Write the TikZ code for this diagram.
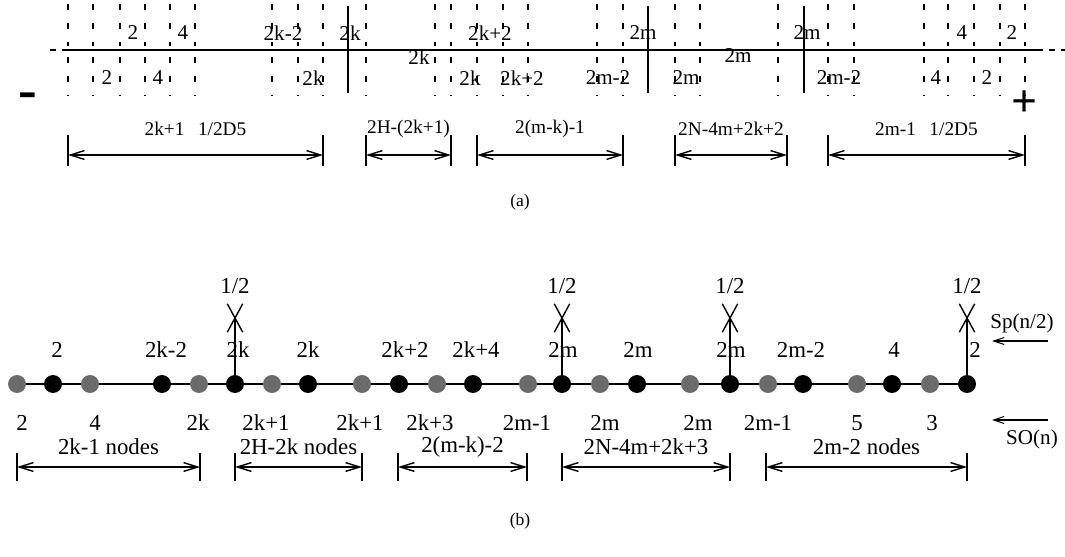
\documentclass[tikz,border=0pt]{standalone}
\usepackage{fontspec}
\setmainfont{Liberation Serif}
\usetikzlibrary{arrows.meta,backgrounds,shapes.misc}
\definecolor{ink}{gray}{0}
\definecolor{sofill}{gray}{0.42}
\tikzset{
  every node/.style={text=ink, inner sep=0pt},
  laba/.style={font=\fontsize{12}{12}\selectfont},
  labb/.style={font=\fontsize{13}{13}\selectfont},
  spnode/.style={circle, fill=ink, minimum size=3.6mm},
  sonode/.style={circle, fill=sofill, minimum size=3.6mm},
  hline/.style={draw=ink, line width=1.1pt},
  vdash/.style={draw=ink, line width=1.1pt, dash pattern=on 3.6pt off 7.2pt},
  dimarr/.style={{Straight Barb[length=8pt,width=5pt]}-{Straight Barb[length=8pt,width=5pt]}, draw=ink, line width=0.8pt},
  tickln/.style={draw=ink, line width=0.8pt},
  legarr/.style={-{Straight Barb[length=6pt,width=4pt]}, draw=ink, line width=0.6pt},
  xmark/.style={cross out, draw=ink, line width=0.8pt, minimum width=2.8mm, minimum height=5.4mm},
}

\begin{document}
\begin{tikzpicture}[x=0.02cm, y=-0.02cm]
\useasboundingbox (0,0) rectangle (1065,557);
% ---- rows (px) ----------------------------------------------------------------
\def\rA{50} \def\rAu{33} \def\rAd{78} \def\rDa{155}
\def\rN{384} \def\rU{350} \def\rD{423} \def\rDb{467}

% ---- (a): weight line -------------------------------------------------------
\coordinate (aL) at (68,\rA);
\coordinate (aR) at (1037,\rA);
\draw[hline] (aL) -- (aR);
\draw[hline, dash pattern=on 3.4pt off 3.4pt] (50,\rA) -- (aL);
\draw[hline, dash pattern=on 3.4pt off 3.4pt] (aR) -- (1065,\rA);
\foreach \x in {68,93,120,145,170,195,272,298,323,366,435,451,477,503,528,
                597,623,675,700,778,828,854,924,948,974,1000,1025} {
  \draw[vdash] (\x,4) -- (\x,46);
  \draw[vdash] (\x,57) -- (\x,96);
}
\foreach \x in {348,648,804}
  \draw[hline] (\x,6) -- (\x,93);

% ---- (a): labels ------------------------------------------------------------
\foreach \x/\t [count=\i] in {133/2, 183/4, 283/2k-2, 350/2k, 490/2k+2, 643/2m,
                              807/2m, 962/4, 1012/2}
  \node[laba] (au\i) at (\x,\rAu) {\t};
\foreach \x/\t [count=\i] in {107/2, 158/4, 313/2k, 470/2k, 522/2k+2, 608/2m-2,
                              686/2m, 839/2m-2, 936/4, 987/2}
  \node[laba] (ad\i) at (\x,\rAd) {\t};
\node[laba] (am1) at (419,57) {2k};
\node[laba] (am2) at (738,56) {2m};
\node[font=\fontsize{32}{32}\selectfont\bfseries] (minus) at (28,101) {-};
\node[font=\fontsize{26}{26}\selectfont\bfseries] (plus) at (1025,104) {+};

% ---- (a): lengths -----------------------------------------------------------
\foreach \l/\r/\t [count=\i] in {68/323/{2k+1\hspace{0.7em}1/2D5}, 366/451/{2H-(2k+1)},
                                 477/623/{2(m-k)-1}, 675/787/{2N-4m+2k+2},
                                 828/1025/{2m-1\hspace{0.7em}1/2D5}} {
  \coordinate (da\i l) at (\l,\rDa);
  \coordinate (da\i r) at (\r,\rDa);
  \draw[dimarr] (da\i l) -- (da\i r);
  \draw[tickln] (\l,135) -- (\l,166);
  \draw[tickln] (\r,135) -- (\r,166);
  \node[font=\fontsize{11}{11}\selectfont] (dla\i) at ({(\l+\r)/2},129) {\t};
}
\node[font=\fontsize{10}{10}\selectfont] (capa) at (520,202) {(a)};

% ---- (b): nodes -------------------------------------------------------------
\foreach \x/\lx/\t [count=\i] in {53/57/2, 162/166/2k-2, 235/238/2k, 308/308/2k,
                                  399/405/2k+2, 473/476/2k+4, 562/563/2m, 637/638/2m,
                                  730/731/2m, 803/801/2m-2, 892/894/4, 967/975/2} {
  \node[spnode] (sp\i) at (\x,\rN) {};
  \node[labb] (spl\i) at (\lx,\rU) {\t};
}
\foreach \x/\lx/\t [count=\i] in {17/22/2, 90/95/4, 199/198/2k, 272/266/2k+1,
                                  362/360/2k+1, 437/430/2k+3, 528/527/2m-1, 600/605/2m,
                                  690/698/2m, 768/768/2m-1, 857/857/5, 930/932/3} {
  \node[sonode] (so\i) at (\x,\rN) {};
  \node[labb] (sol\i) at (\lx,\rD) {\t};
}
\begin{pgfonlayer}{background}
  \draw[hline] (so1) -- (sp12);
\end{pgfonlayer}

% ---- (b): spinor legs -------------------------------------------------------
\foreach \i in {3,7,9,12} {
  \path (sp\i) ++(0,-66) node[xmark] (x\i) {};
  \draw[hline] (sp\i) -- (x\i.center);
  \node[labb] (h\i) at ([yshift=3.6mm]x\i.north) {1/2};
}

% ---- (b): groups ------------------------------------------------------------
\node[font=\fontsize{12}{12}\selectfont] (sp) at (1022,323) {Sp(n/2)};
\coordinate (spA) at (1048,341);
\coordinate (spB) at (992,341);
\draw[legarr] (spA) -- (spB);
\node[font=\fontsize{12}{12}\selectfont] (so) at (1032,439) {SO(n)};
\coordinate (soA) at (1048,420);
\coordinate (soB) at (992,420);
\draw[legarr] (soA) -- (soB);

\foreach \l/\r/\t [count=\i] in {17/200/{2k-1 nodes}, 235/362/{2H-2k nodes},
                                 398/527/{2(m-k)-2}, 562/730/{2N-4m+2k+3},
                                 766/967/{2m-2 nodes}} {
  \coordinate (db\i l) at (\l,\rDb);
  \coordinate (db\i r) at (\r,\rDb);
  \draw[dimarr] (db\i l) -- (db\i r);
  \draw[tickln] (\l,453) -- (\l,481);
  \draw[tickln] (\r,453) -- (\r,481);
  \node[labb] (dlb\i) at ({(\l+\r)/2},447) {\t};
}
\node[font=\fontsize{10}{10}\selectfont] (capb) at (520,521) {(b)};
\end{tikzpicture}
\end{document}
